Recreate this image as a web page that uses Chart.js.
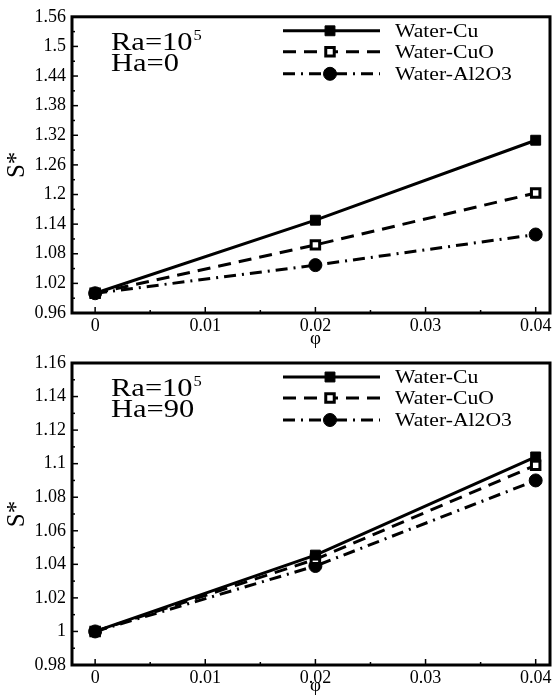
<!DOCTYPE html>
<html>
<head>
<meta charset="utf-8">
<script src="https://cdn.jsdelivr.net/npm/chart.js@4.4.1/dist/chart.umd.min.js"></script>
<style>
    html, body { margin: 0; padding: 0; background: #fff; }
    #wrap { position: relative; width: 559px; height: 695px; }
    .panel { position: absolute; left: 0; }
    #topPanel { top: 0; width: 559px; height: 350px; }
    #bottomPanel { top: 340px; width: 559px; height: 355px; }
</style>
</head>
<body>
<div id="wrap">
    <div class="panel" id="topPanel"><canvas id="chartHa0"></canvas></div>
    <div class="panel" id="bottomPanel"><canvas id="chartHa90"></canvas></div>
</div>
<script>
// ==========================================
// DATA
// ==========================================
var phi = [0, 0.02, 0.04];

// Ha = 0
var cuHa0    = [1.0, 1.148, 1.31];
var cuoHa0   = [1.0, 1.098, 1.203];
var al2o3Ha0 = [1.0, 1.057, 1.119];

// Ha = 90
var cuHa90    = [1.0, 1.0455, 1.104];
var cuoHa90   = [1.0, 1.043, 1.099];
var al2o3Ha90 = [1.0, 1.039, 1.09];

var seriesNames = ['Water-Cu', 'Water-CuO', 'Water-Al2O3'];

var xTicks = [0, 0.01, 0.02, 0.03, 0.04];
var yTicksHa0 = [0.96, 1.02, 1.08, 1.14, 1.2, 1.26, 1.32, 1.38, 1.44, 1.5, 1.56];
var yTicksHa90 = [0.98, 1, 1.02, 1.04, 1.06, 1.08, 1.1, 1.12, 1.14, 1.16];

var SERIF = "'Liberation Serif', 'Times New Roman', serif";

// ==========================================
// HELPERS
// ==========================================
function points(ys) {
    return phi.map(function(x, i) { return { x: x, y: ys[i] }; });
}

function fmt(v) {
    return String(parseFloat(v.toFixed(3)));
}

// text drawn a little wider than the font's own proportions
function wideText(ctx, text, x, y, sx) {
    ctx.save();
    ctx.translate(x, y);
    ctx.scale(sx, 1);
    ctx.fillText(text, 0, 0);
    ctx.restore();
    return ctx.measureText(text).width * sx;
}

function buildDatasets(cu, cuo, al) {
    return [{
        label: seriesNames[0],
        data: points(cu),
        borderColor: '#000',
        borderWidth: 3,
        pointStyle: 'rect',
        pointRadius: 7,
        pointBackgroundColor: '#000',
        pointBorderColor: '#000',
        pointBorderWidth: 1
    }, {
        label: seriesNames[1],
        data: points(cuo),
        borderColor: '#000',
        borderWidth: 3,
        borderDash: [13, 8],
        pointStyle: 'rect',
        pointRadius: 6,
        pointBackgroundColor: '#fff',
        pointBorderColor: '#000',
        pointBorderWidth: 3
    }, {
        label: seriesNames[2],
        data: points(al),
        borderColor: '#000',
        borderWidth: 3,
        borderDash: [12, 6, 2, 6],
        pointStyle: 'circle',
        pointRadius: 6.5,
        pointBackgroundColor: '#000',
        pointBorderColor: '#000',
        pointBorderWidth: 1
    }];
}

function drawMarker(ctx, ds, x, y) {
    var r = ds.pointRadius;
    ctx.save();
    ctx.setLineDash([]);
    ctx.fillStyle = ds.pointBackgroundColor;
    ctx.strokeStyle = ds.pointBorderColor;
    ctx.lineWidth = ds.pointBorderWidth;
    ctx.beginPath();
    if (ds.pointStyle === 'circle') {
        ctx.arc(x, y, r, 0, Math.PI * 2);
    } else {
        var s = r * Math.SQRT1_2;
        ctx.rect(x - s, y - s, 2 * s, 2 * s);
    }
    ctx.fill();
    ctx.stroke();
    ctx.restore();
}

// ==========================================
// PLUGIN: frame, inward ticks, legend, notes
// ==========================================
var framePlugin = {
    id: 'frame',
    afterDraw: function(chart, args, opts) {
        var ctx = chart.ctx;
        var a = chart.chartArea;
        var xs = chart.scales.x;
        var ys = chart.scales.y;

        ctx.save();
        ctx.strokeStyle = '#000';
        ctx.setLineDash([]);

        // inward ticks on the bottom axis
        ctx.lineWidth = 1.5;
        for (var i = 0; i < xTicks.length; i++) {
            var px = xs.getPixelForValue(xTicks[i]);
            ctx.beginPath(); ctx.moveTo(px, a.bottom); ctx.lineTo(px, a.bottom - 6); ctx.stroke();
            if (i < xTicks.length - 1) {
                var mx = xs.getPixelForValue((xTicks[i] + xTicks[i + 1]) / 2);
                ctx.beginPath(); ctx.moveTo(mx, a.bottom); ctx.lineTo(mx, a.bottom - 3); ctx.stroke();
            }
        }

        // inward ticks on the left axis
        var yt = opts.yTicks;
        for (var j = 0; j < yt.length; j++) {
            var py = ys.getPixelForValue(yt[j]);
            ctx.beginPath(); ctx.moveTo(a.left, py); ctx.lineTo(a.left + 6, py); ctx.stroke();
            if (j < yt.length - 1) {
                var my = ys.getPixelForValue((yt[j] + yt[j + 1]) / 2);
                ctx.beginPath(); ctx.moveTo(a.left, my); ctx.lineTo(a.left + 3, my); ctx.stroke();
            }
        }

        // heavy box around the plot
        ctx.lineWidth = 3;
        ctx.strokeRect(a.left, a.top, a.right - a.left, a.bottom - a.top);

        // legend
        ctx.font = '19px ' + SERIF;
        ctx.textBaseline = 'middle';
        ctx.fillStyle = '#000';
        var rows = [14, 35, 57];
        chart.data.datasets.forEach(function(ds, k) {
            var y = a.top + rows[k];
            ctx.save();
            ctx.lineWidth = ds.borderWidth;
            ctx.setLineDash(ds.borderDash || []);
            ctx.beginPath(); ctx.moveTo(283, y); ctx.lineTo(380, y); ctx.stroke();
            ctx.restore();
            drawMarker(ctx, ds, 330, y);
            wideText(ctx, ds.label, 395, y + 1, 1.14);
        });

        // Ra / Ha note
        ctx.textBaseline = 'alphabetic';
        ctx.font = '25px ' + SERIF;
        var w = wideText(ctx, 'Ra=10', 111, a.top + 33, 1.22);
        ctx.font = '15px ' + SERIF;
        wideText(ctx, '5', 111 + w + 1, a.top + 23, 1.1);
        ctx.font = '25px ' + SERIF;
        wideText(ctx, opts.haText, 111, a.top + 54, 1.22);

        // x axis title
        ctx.font = '19px ' + SERIF;
        ctx.textAlign = 'center';
        ctx.textBaseline = 'middle';
        ctx.fillText('\u03c6', xs.getPixelForValue(0.02), a.bottom + opts.phiOffset);
        ctx.restore();
    }
};

// ==========================================
// CHART FACTORY
// ==========================================
function makeChart(id, datasets, yMin, yMax, yTicks, haText, topPad, xHeight, phiOffset) {
    return new Chart(document.getElementById(id), {
        type: 'scatter',
        data: { datasets: datasets },
        plugins: [framePlugin],
        options: {
            responsive: true,
            maintainAspectRatio: false,
            animation: false,
            showLine: true,
            layout: { padding: { top: topPad, right: 3, left: 0, bottom: 0 } },
            plugins: {
                legend: { display: false },
                tooltip: { enabled: false },
                frame: { yTicks: yTicks, haText: haText, phiOffset: phiOffset }
            },
            scales: {
                x: {
                    type: 'linear',
                    min: -0.0021,
                    max: 0.0413,
                    afterBuildTicks: function(s) { s.ticks = xTicks.map(function(v) { return { value: v }; }); },
                    afterFit: function(s) { s.height = xHeight; },
                    grid: { display: false, drawTicks: false },
                    border: { display: false },
                    ticks: {
                        color: '#000',
                        padding: 2,
                        maxRotation: 0,
                        font: { family: SERIF, size: 18 },
                        callback: function(v) { return fmt(v); }
                    }
                },
                y: {
                    type: 'linear',
                    min: yMin,
                    max: yMax,
                    afterBuildTicks: function(s) { s.ticks = yTicks.map(function(v) { return { value: v }; }); },
                    afterFit: function(s) { s.width = 72; },
                    grid: { display: false, drawTicks: false },
                    border: { display: false },
                    title: {
                        display: true,
                        text: 'S*',
                        color: '#000',
                        padding: { top: 2, bottom: 0 },
                        font: { family: SERIF, size: 25 }
                    },
                    ticks: {
                        color: '#000',
                        padding: 6,
                        font: { family: SERIF, size: 18 },
                        callback: function(v) { return fmt(v); }
                    }
                }
            }
        }
    });
}

makeChart('chartHa0', buildDatasets(cuHa0, cuoHa0, al2o3Ha0), 0.96, 1.56, yTicksHa0, 'Ha=0', 15, 37, 26);
makeChart('chartHa90', buildDatasets(cuHa90, cuoHa90, al2o3Ha90), 0.98, 1.16, yTicksHa90, 'Ha=90', 23, 30, 21);
</script>
</body>
</html>
